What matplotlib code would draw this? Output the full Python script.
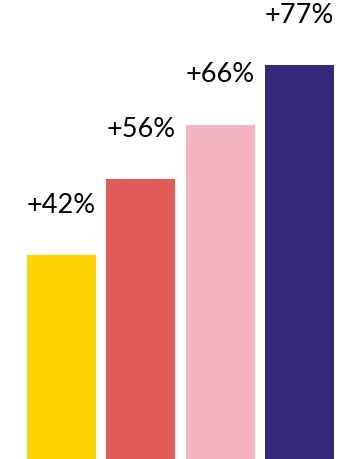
import matplotlib.pyplot as plt
import numpy as np

# ── Data ──────────────────────────────────────────────────────────────────────
categories = ["A", "B", "C", "D"]
uplift_pct = [42, 56, 66, 77]
bar_colors = ["#FFD200", "#E05C58", "#F4B3C0", "#35287D"]

# ── Plot ──────────────────────────────────────────────────────────────────────
fig = plt.figure(figsize=(3.47, 4.59), dpi=100)
ax = fig.add_axes([0, 0, 1, 1])

x = np.arange(len(categories))
ax.bar(x, uplift_pct, width=0.87, color=bar_colors, linewidth=0)

for xi, v in zip(x, uplift_pct):
    ax.annotate(f"+{v}%", (xi, v), xytext=(0, 36), textcoords="offset points",
                ha="center", va="center", fontsize=19.5, family="Lato",
                color="black")

ax.set_xlim(-0.776, 3.60)
ax.set_ylim(4.47, 89.0)
ax.axis("off")

fig.savefig("out.png", dpi=100)
